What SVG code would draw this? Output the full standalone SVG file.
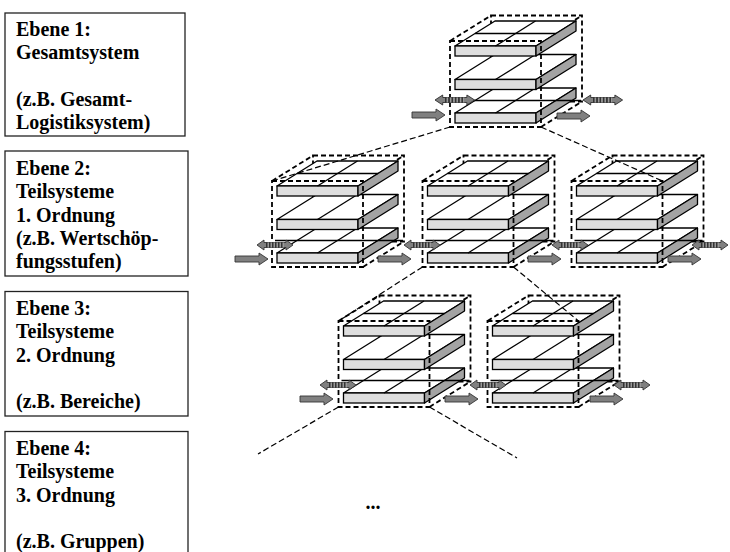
<svg xmlns="http://www.w3.org/2000/svg" xmlns:xlink="http://www.w3.org/1999/xlink" width="730" height="552" viewBox="0 0 730 552">
<style>
  .box{fill:#fff;stroke:#222;stroke-width:1.3}
  .lbl{font-weight:bold;font-size:20px;fill:#000}
  .dash{fill:none;stroke:#000;stroke-width:1.8;stroke-dasharray:5,3}
  .conn{fill:none;stroke:#000;stroke-width:1.2;stroke-dasharray:6,3}
  .topf{fill:#fff;stroke:#000;stroke-width:1.3;stroke-linejoin:round}
  .front{fill:#dedede;stroke:#000;stroke-width:1.3}
  .side{fill:#a3a3a3;stroke:#000;stroke-width:1.3;stroke-linejoin:round}
  .ln{stroke:#000;stroke-width:1.3;fill:none}
  .arr{fill:#808080;stroke:#333;stroke-width:0.9;stroke-linejoin:round}
</style>
<defs>
  <pattern id="stripes" width="3" height="6" patternUnits="userSpaceOnUse">
    <rect width="3" height="6" fill="#9a9a9a"/>
    <rect width="1.5" height="6" fill="#333"/>
  </pattern>
  <g id="plate">
    <polygon class="topf" points="5,0 86,0 126,-25 45,-25"/>
    <rect class="front" x="5" y="0" width="81" height="10"/>
    <polygon class="side" points="86,0 126,-25 126,-15 86,10"/>
    <line class="ln" x1="45.5" y1="0" x2="85.5" y2="-25"/>
  </g>
  <g id="cube">
    <rect class="dash" x="41" y="-25.5" width="91" height="86"/>
    <path class="dash" d="M0,0L41,-25.5M91,0L132,-25.5M91,86L132,60.5"/>
    <use xlink:href="#plate" href="#plate" y="72"/>
    <line class="ln" x1="3" y1="59.5" x2="131" y2="59.5"/>
    <use xlink:href="#plate" href="#plate" y="38.5"/>
    <use xlink:href="#plate" href="#plate" y="5"/>
    <line class="ln" x1="25" y1="-7.5" x2="106" y2="-7.5"/>
    <rect class="dash" x="0" y="0" width="91" height="86"/>
  </g>
  <g id="darr">
    <polygon class="arr" points="0,0 7,-5 7,-2.5 29,-2.5 29,-5 36,0 29,5 29,2.5 7,2.5 7,5"/>
    <rect x="9" y="-2.5" width="18" height="5" fill="url(#stripes)"/>
  </g>
  <polygon id="sarr" class="arr" points="0,-3 24,-3 24,-6 33,0 24,6 24,3 0,3"/>
</defs>

<g font-family="'Liberation Serif', 'DejaVu Serif', serif">
<g id="level1">
  <rect class="box" x="5" y="13" width="180" height="123"/>
  <text class="lbl" x="16" y="36">Ebene 1:</text>
  <text class="lbl" x="16" y="59">Gesamtsystem</text>
  <text class="lbl" x="16" y="105.5">(z.B. Gesamt-</text>
  <text class="lbl" x="16" y="128.5">Logistiksystem)</text>
</g>
<g id="level2">
  <rect class="box" x="5" y="151" width="183" height="125"/>
  <text class="lbl" x="16" y="175">Ebene 2:</text>
  <text class="lbl" x="16" y="198.3">Teilsysteme</text>
  <text class="lbl" x="16" y="221.7">1. Ordnung</text>
  <text class="lbl" x="16" y="245">(z.B. Wertschöp-</text>
  <text class="lbl" x="16" y="268.3">fungsstufen)</text>
</g>
<g id="level3">
  <rect class="box" x="5" y="291.5" width="183" height="124.5"/>
  <text class="lbl" x="16" y="315">Ebene 3:</text>
  <text class="lbl" x="16" y="338.3">Teilsysteme</text>
  <text class="lbl" x="16" y="361.7">2. Ordnung</text>
  <text class="lbl" x="16" y="408.3">(z.B. Bereiche)</text>
</g>
<g id="level4">
  <rect class="box" x="5" y="431.5" width="183" height="130"/>
  <text class="lbl" x="16" y="455">Ebene 4:</text>
  <text class="lbl" x="16" y="478.3">Teilsysteme</text>
  <text class="lbl" x="16" y="501.7">3. Ordnung</text>
  <text class="lbl" x="16" y="548.3">(z.B. Gruppen)</text>
</g>
<text class="lbl" x="373" y="509" text-anchor="middle" font-size="18">...</text>
</g>

<g id="system1"><use xlink:href="#cube" href="#cube" x="450" y="41"/></g>
<g id="system2a"><use xlink:href="#cube" href="#cube" x="272" y="181"/></g>
<g id="system2b"><use xlink:href="#cube" href="#cube" x="422.5" y="181"/></g>
<g id="system2c"><use xlink:href="#cube" href="#cube" x="571.5" y="181"/></g>
<g id="system3a"><use xlink:href="#cube" href="#cube" x="338.5" y="321"/></g>
<g id="system3b"><use xlink:href="#cube" href="#cube" x="487.5" y="321"/></g>

<g id="flows">
  <use xlink:href="#sarr" href="#sarr" x="412" y="115"/>
  <use xlink:href="#sarr" href="#sarr" x="557" y="116"/>
  <use xlink:href="#darr" href="#darr" transform="translate(435,100) scale(1.1,1)"/>
  <use xlink:href="#darr" href="#darr" transform="translate(583,100) scale(1.1,1)"/>

  <use xlink:href="#sarr" href="#sarr" x="235" y="259"/>
  <use xlink:href="#sarr" href="#sarr" x="378" y="259"/>
  <use xlink:href="#sarr" href="#sarr" x="528" y="259"/>
  <use xlink:href="#sarr" href="#sarr" x="668" y="259"/>
  <use xlink:href="#darr" href="#darr" x="257" y="245"/>
  <use xlink:href="#darr" href="#darr" x="404" y="245"/>
  <use xlink:href="#darr" href="#darr" x="552" y="245"/>
  <use xlink:href="#darr" href="#darr" x="692" y="245"/>

  <use xlink:href="#sarr" href="#sarr" x="300" y="399"/>
  <use xlink:href="#sarr" href="#sarr" x="445" y="399"/>
  <use xlink:href="#sarr" href="#sarr" x="590" y="399"/>
  <use xlink:href="#darr" href="#darr" x="320" y="385"/>
  <use xlink:href="#darr" href="#darr" x="470" y="385"/>
  <use xlink:href="#darr" href="#darr" x="614" y="385"/>
</g>

<g id="connectors">
  <line class="conn" x1="450" y1="127" x2="272" y2="181"/>
  <line class="conn" x1="541" y1="127" x2="662.5" y2="181"/>
  <line class="conn" x1="422.5" y1="267" x2="338.5" y2="321"/>
  <line class="conn" x1="513.5" y1="267" x2="578.5" y2="321"/>
  <line class="conn" x1="338.5" y1="407" x2="258" y2="454"/>
  <line class="conn" x1="429.5" y1="407" x2="517" y2="458"/>
</g>
</svg>
